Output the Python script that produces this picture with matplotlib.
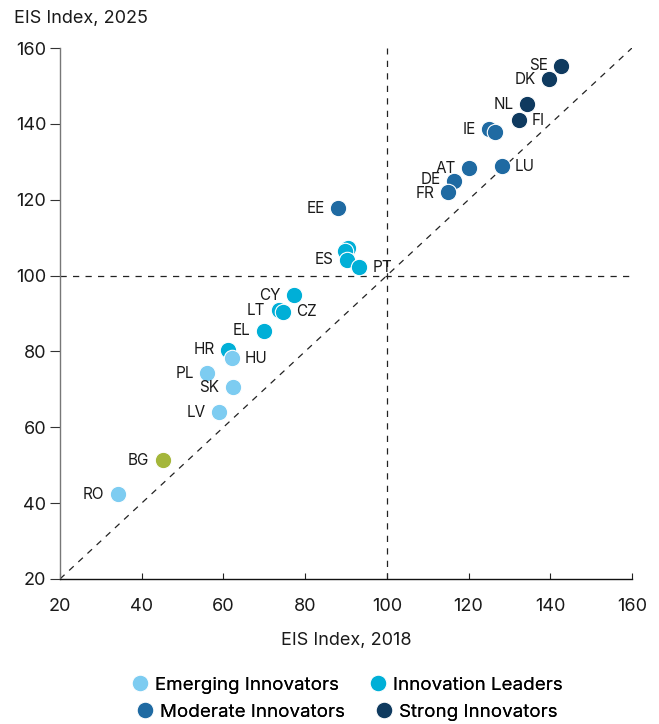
import matplotlib
matplotlib.use("Agg")
import matplotlib.pyplot as plt
from matplotlib.lines import Line2D

plt.rcParams['font.family'] = ['Inter', 'DejaVu Sans']

# ---- data ----
codes = ["SE", "DK", "NL", "FI", "IE", "", "AT", "LU", "DE", "FR", "EE",
         "", "", "ES", "PT", "CY", "LT", "CZ", "EL", "HR", "HU", "PL", "SK",
         "LV", "BG", "RO"]
eis_2018 = [142.6, 139.6, 134.4, 132.3, 125.1, 126.5, 120.2, 128.1, 116.4, 114.9, 88.0,
            90.5, 89.8, 90.2, 93.2, 77.2, 73.5, 74.6, 69.9, 61.2, 62.0, 56.0, 62.3,
            58.9, 45.1, 34.1]
eis_2025 = [155.3, 151.7, 145.2, 140.9, 138.6, 137.8, 128.3, 128.8, 124.9, 122.1, 117.7,
            107.2, 106.6, 104.2, 102.2, 94.8, 90.9, 90.4, 85.4, 80.5, 78.2, 74.2, 70.5,
            63.9, 51.3, 42.3]
groups = ["Strong", "Strong", "Strong", "Strong", "Moderate", "Moderate", "Moderate",
          "Moderate", "Moderate", "Moderate", "Moderate",
          "Leaders", "Leaders", "Leaders", "Leaders", "Leaders", "Leaders", "Leaders",
          "Leaders", "Leaders", "Emerging", "Emerging", "Emerging", "Emerging",
          "Other", "Emerging"]
label_side = ["L", "L", "L", "R", "L", "", "L", "R", "L", "L", "L",
              "", "", "L", "R", "L", "L", "R", "L", "L", "R", "L", "L",
              "L", "L", "L"]
label_dy = {"DE": 1.0, "FR": -1.0}

group_names = {"Emerging": "Emerging Innovators", "Leaders": "Innovation Leaders",
               "Moderate": "Moderate Innovators", "Strong": "Strong Innovators"}
colors = {"Emerging": "#7DCCF1", "Leaders": "#00AFD7", "Moderate": "#1F6AA2",
          "Strong": "#0F3A5F", "Other": "#A4B63A"}

axis_ticks = [20, 40, 60, 80, 100, 120, 140, 160]

# ---- figure ----
fig = plt.figure(figsize=(6.59, 7.24), dpi=100)
ax = fig.add_axes([0.091, 0.2003, 0.868, 0.7334])

ax.set_xlim(20, 160)
ax.set_ylim(20, 160)

# reference lines
ax.plot([20, 160], [20, 160], ls=(0, (5, 5)), color="#222222", lw=0.9, zorder=1)
ax.axhline(100, ls=(0, (5, 5)), color="#222222", lw=0.9, zorder=1)
ax.axvline(100, ls=(0, (5, 5)), color="#222222", lw=0.9, zorder=1)

for x, y, g in zip(eis_2018, eis_2025, groups):
    ax.scatter(x, y, s=140, color=colors[g], edgecolor="white", linewidth=0.8, zorder=3)

for c, x, y, side in zip(codes, eis_2018, eis_2025, label_side):
    if not c:
        continue
    dy = label_dy.get(c, 0)
    if side == "L":
        ax.annotate(c, (x, y), xytext=(-9.5, dy), textcoords="offset points",
                    ha="right", va="center", fontsize=11, color="#1a1a1a", zorder=4)
    else:
        ax.annotate(c, (x, y), xytext=(9.5, dy), textcoords="offset points",
                    ha="left", va="center", fontsize=11, color="#1a1a1a", zorder=4)

ax.set_xticks(axis_ticks)
ax.set_yticks(axis_ticks)
ax.tick_params(axis="x", direction="in", length=4.5, width=0.8, color="#222222",
               labelsize=13, pad=14, labelcolor="#1a1a1a")
ax.tick_params(axis="y", direction="out", length=7, width=0.8, color="#333333",
               labelsize=13, pad=3, labelcolor="#1a1a1a")

for s in ["top", "right"]:
    ax.spines[s].set_visible(False)
ax.spines["left"].set_color("#777777")
ax.spines["left"].set_linewidth(1.0)
ax.spines["bottom"].set_color("#111111")
ax.spines["bottom"].set_linewidth(1.0)

ax.set_xlabel("EIS Index, 2018", fontsize=13, color="#1a1a1a", labelpad=12)
fig.text(14 / 659, 1 - 18 / 724, "EIS Index, 2025", fontsize=13, color="#1a1a1a",
         ha="left", va="center")


def make_handle(g):
    return Line2D([0], [0], marker="o", linestyle="", markersize=12,
                  markerfacecolor=colors[g], markeredgecolor="white",
                  markeredgewidth=0.8, label=group_names[g])


rows = [(["Emerging", "Leaders"], 1 - 685 / 724), (["Moderate", "Strong"], 1 - 712 / 724)]
for row_groups, yc in rows:
    leg = fig.legend(handles=[make_handle(g) for g in row_groups], loc="center",
                     bbox_to_anchor=(0.525, yc), ncol=2, frameon=False, fontsize=13.5,
                     handletextpad=0.2, columnspacing=1.5, handlelength=1.2,
                     borderpad=0.0)
    fig.add_artist(leg)

fig.savefig("out.png", dpi=100)
